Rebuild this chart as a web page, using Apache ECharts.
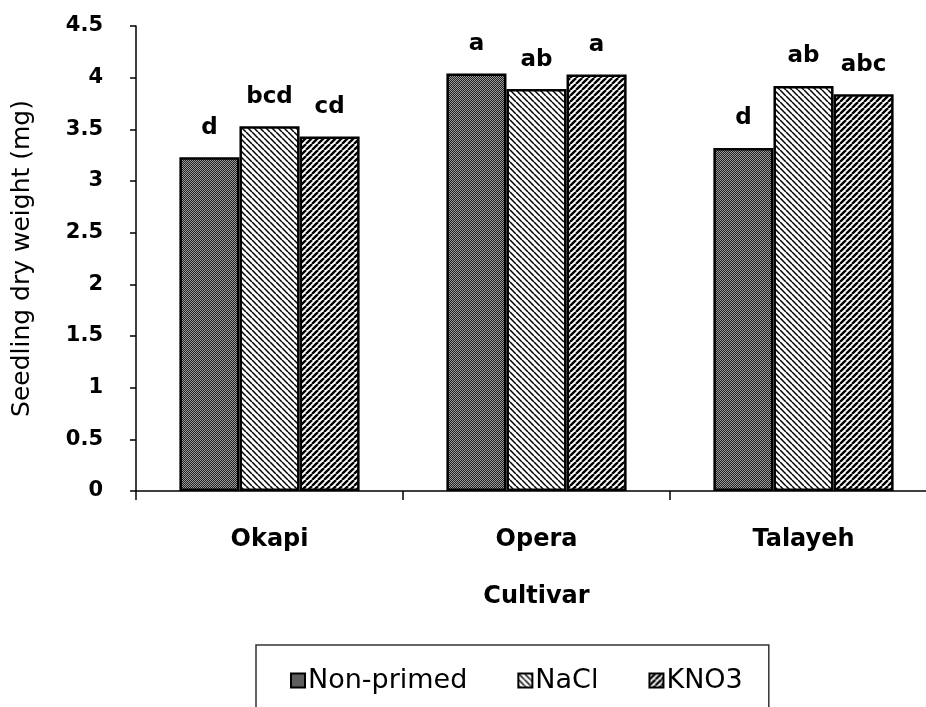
<!DOCTYPE html>
<html>
<head>
<meta charset="utf-8">
<script src="https://cdn.jsdelivr.net/npm/echarts@6/dist/echarts.min.js"></script>
<style>
  html, body { margin: 0; padding: 0; background: #fff; }
  #chart { width: 926px; height: 707px; }
</style>
</head>
<body>
<div id="chart"></div>
<script>
var cultivars = ['Okapi', 'Opera', 'Talayeh'];
var nonPrimed = [3.23, 4.04, 3.32];
var nacl = [3.53, 3.89, 3.92];
var kno3 = [3.43, 4.03, 3.84];
var nonPrimedLetters = ['d', 'a', 'd'];
var naclLetters = ['bcd', 'ab', 'ab'];
var kno3Letters = ['cd', 'a', 'abc'];
var yTicks = [0, 0.5, 1, 1.5, 2, 2.5, 3, 3.5, 4, 4.5];

// fill patterns for the bars
function checker() {
    var c = document.createElement('canvas');
    c.width = 4; c.height = 4;
    var ctx = c.getContext('2d');
    ctx.fillStyle = '#222';
    ctx.fillRect(0, 0, 4, 4);
    ctx.fillStyle = '#9a9a9a';
    for (var i = 0; i < 4; i++) {
        for (var j = 0; j < 4; j++) {
            if ((i + j) % 2 === 0) ctx.fillRect(i, j, 1, 1);
        }
    }
    return c;
}
function hatch(size, back, lw) {
    var c = document.createElement('canvas');
    c.width = size; c.height = size;
    var ctx = c.getContext('2d');
    ctx.fillStyle = '#fff';
    ctx.fillRect(0, 0, size, size);
    ctx.strokeStyle = '#000';
    ctx.lineWidth = lw;
    for (var k = -1; k <= 1; k++) {
        ctx.beginPath();
        if (back) {
            ctx.moveTo(k * size, 0);
            ctx.lineTo(k * size + size, size);
        } else {
            ctx.moveTo(k * size, size);
            ctx.lineTo(k * size + size, 0);
        }
        ctx.stroke();
    }
    return c;
}

var font = '"DejaVu Sans", Verdana, sans-serif';

function makeLabel(letters) {
    return {
        show: true,
        position: 'top',
        distance: 18,
        color: '#000',
        fontFamily: font,
        fontWeight: 'bold',
        fontSize: 23,
        formatter: function (p) { return letters[p.dataIndex]; }
    };
}

function makeSeries(name, data, pattern, letters) {
    return {
        name: name,
        type: 'bar',
        data: data,
        barGap: '0%',
        barCategoryGap: '32.5%',
        itemStyle: {
            color: { image: pattern, repeat: 'repeat' },
            borderColor: '#000',
            borderWidth: 2.5
        },
        emphasis: { disabled: true },
        label: makeLabel(letters)
    };
}

var chart = echarts.init(document.getElementById('chart'), null, { renderer: 'canvas' });
var option = {
    animation: false,
    backgroundColor: '#fff',
    grid: { left: 136, right: -11, top: 26, bottom: 216, outerBoundsMode: 'none' },
    legend: {
        data: ['Non-primed', 'NaCl', 'KNO3'],
        left: 256,
        top: 645,
        orient: 'horizontal',
        icon: 'rect',
        itemWidth: 14,
        itemHeight: 14,
        itemGap: 50,
        padding: [22, 26, 60, 34],
        borderColor: '#333',
        borderWidth: 1.5,
        textStyle: { fontFamily: font, fontSize: 27, color: '#000', padding: [0, 0, 0, -2] }
    },
    xAxis: {
        type: 'category',
        data: cultivars,
        name: 'Cultivar',
        nameLocation: 'middle',
        nameGap: 94,
        nameTextStyle: { fontFamily: font, fontWeight: 'bold', fontSize: 24, color: '#000' },
        axisLine: { lineStyle: { color: '#000', width: 1.5 } },
        axisTick: { show: true, length: 9, inside: false, lineStyle: { color: '#000', width: 1.5 } },
        axisLabel: { margin: 37, fontFamily: font, fontWeight: 'bold', fontSize: 24, color: '#000' }
    },
    yAxis: {
        type: 'value',
        min: 0,
        max: 4.5,
        interval: 0.5,
        name: 'Seedling dry weight (mg)',
        nameLocation: 'middle',
        nameGap: 101,
        nameTextStyle: { fontFamily: font, fontSize: 25, color: '#000' },
        splitLine: { show: false },
        axisLine: { show: true, lineStyle: { color: '#000', width: 1.5 } },
        axisTick: { show: true, length: 6, lineStyle: { color: '#000', width: 1.5 } },
        axisLabel: {
            margin: 33,
            fontFamily: font,
            fontWeight: 'bold',
            fontSize: 21,
            color: '#000',
            formatter: function (v) { return yTicks.indexOf(v) >= 0 ? String(v) : ''; }
        }
    },
    series: [
        makeSeries('Non-primed', nonPrimed, checker(), nonPrimedLetters),
        makeSeries('NaCl', nacl, hatch(6, true, 1.5), naclLetters),
        makeSeries('KNO3', kno3, hatch(6, false, 2.4), kno3Letters)
    ]
};
chart.setOption(option);
</script>
</body>
</html>
